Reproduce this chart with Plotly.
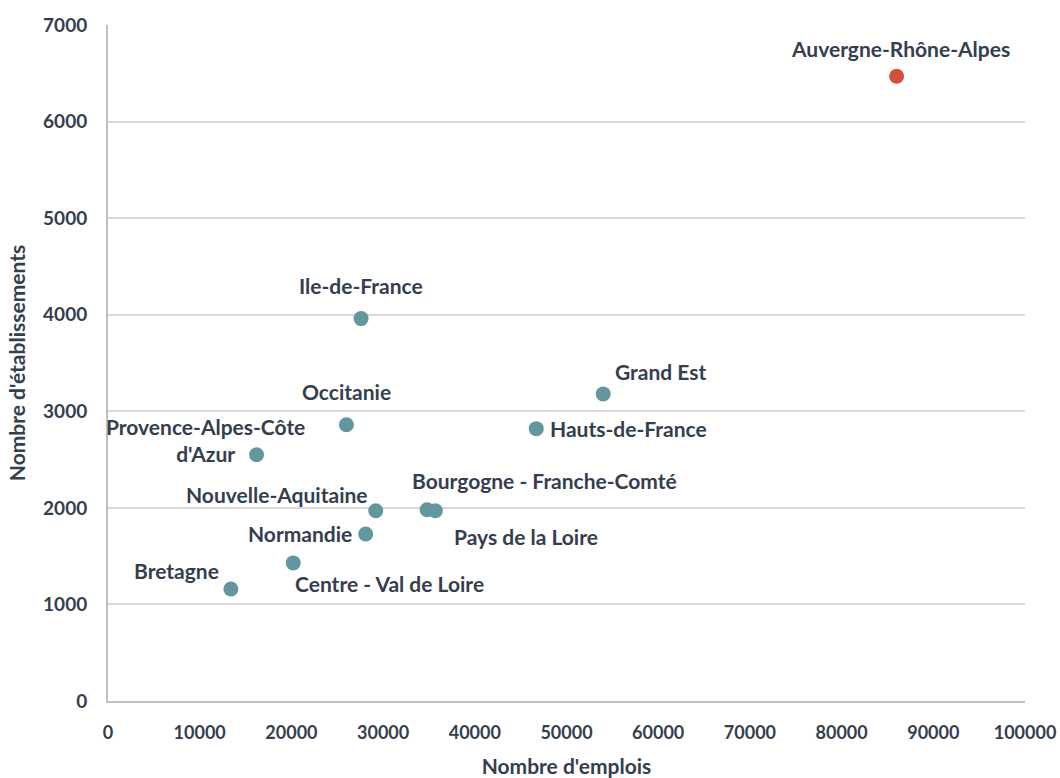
import plotly.graph_objects as go

regions = ["Auvergne-Rhône-Alpes", "Ile-de-France", "Grand Est", "Occitanie",
           "Hauts-de-France", "Provence-Alpes-Côte<br>d'Azur", "Nouvelle-Aquitaine",
           "Bourgogne - Franche-Comté", "Pays de la Loire", "Normandie",
           "Centre - Val de Loire", "Bretagne"]
emplois = [86000, 27600, 54000, 26000, 46700, 16200, 29200, 34800, 35700, 28100, 20200, 13400]
etablissements = [6470, 3960, 3180, 2860, 2820, 2550, 1970, 1980, 1970, 1730, 1430, 1160]
colors = ["#D4503A"] + ["#62979E"] * 11

# label placement: (xanchor, xshift, yshift) in pixels
label_pos = [("center", 4, 28), ("center", 0, 33), ("left", 10, 22), ("center", 0, 33),
             ("left", 12, 0), ("center", -51, 15), ("right", -6, 16), ("left", -17, 29),
             ("left", 17, -26), ("right", -12, 0), ("left", 0, -21), ("right", -10, 18)]

FONT = "Lato"
TXT = "#343E4E"
LBL = 21

fig = go.Figure(go.Scatter(
    x=emplois, y=etablissements, mode="markers",
    marker=dict(size=15, color=colors),
    text=regions, hoverinfo="text+x+y", showlegend=False))

for r, xv, yv, (xa, xs, ys) in zip(regions, emplois, etablissements, label_pos):
    fig.add_annotation(x=xv, y=yv, text=r, showarrow=False, xanchor=xa, yanchor="middle",
                       xshift=xs, yshift=ys, align="center",
                       font=dict(family=FONT, size=LBL, color=TXT, weight="bold"))

fig.update_layout(
    width=1060, height=778,
    margin=dict(l=108, r=35, t=25, b=77),
    paper_bgcolor="white", plot_bgcolor="white",
    font=dict(family=FONT, size=LBL, color=TXT, weight="bold"),
    xaxis=dict(range=[0, 100000], dtick=10000, tickformat="d", showgrid=False, zeroline=False,
               showline=True, linecolor="#BFBFBF", linewidth=2, automargin=False,
               ticks="", ticklabelstandoff=14,
               tickfont=dict(family=FONT, size=18, color=TXT, weight="bold"),
               title=dict(text="Nombre d'emplois", standoff=19,
                          font=dict(family=FONT, size=LBL, color=TXT, weight="bold"))),
    yaxis=dict(range=[0, 7000], dtick=1000, tickformat="d", showgrid=True, gridcolor="#D9D9D9", gridwidth=2,
               zeroline=False, showline=True, linecolor="#BFBFBF", linewidth=2, automargin=False,
               ticks="", ticklabelstandoff=15,
               tickfont=dict(family=FONT, size=19, color=TXT, weight="bold"),
               title=dict(text="Nombre d'établissements", standoff=12,
                          font=dict(family=FONT, size=LBL, color=TXT, weight="bold"))),
)

# remove the page's default 8px body margin so the figure fills the window exactly
fig.write_html("out.html", config={"displayModeBar": False},
               post_script="document.body.style.margin='0';document.body.style.overflow='hidden';")
